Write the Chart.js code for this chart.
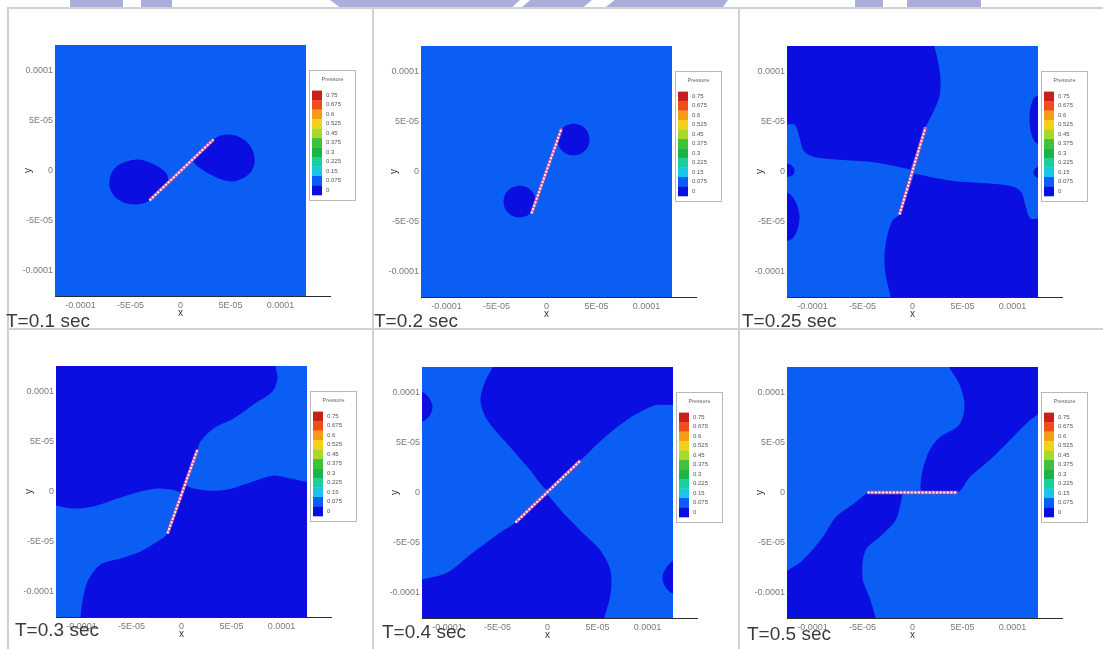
<!DOCTYPE html>
<html>
<head>
<meta charset="utf-8">
<title>Pressure field around a rotating crack</title>
<script src="https://cdn.jsdelivr.net/npm/chart.js@4.4.1/dist/chart.umd.min.js"></script>
<style>
  html, body { margin: 0; padding: 0; background: #fff; }
  #page { position: relative; width: 1103px; height: 649px; overflow: hidden; background: #fff;
          font-family: "Liberation Sans", Arial, sans-serif; }
  .rule { position: absolute; background: #d2d2d2; }
  .mark { position: absolute; top: 0; height: 7px; background: #a9aedb; }
  canvas { position: absolute; }
  .time { position: absolute; font-size: 19px; line-height: 19px; color: #3a3a3a; white-space: nowrap; }
</style>
</head>
<body>
<div id="page">
  <!-- banner shapes along the top edge -->
  <div class="mark" style="left:70px;width:53px"></div>
  <div class="mark" style="left:141px;width:31px"></div>
  <div class="mark" style="left:330px;width:190px;clip-path:polygon(0 0,100% 0,96% 100%,5% 100%)"></div>
  <div class="mark" style="left:522px;width:70px;clip-path:polygon(12% 0,100% 0,88% 100%,0 100%)"></div>
  <div class="mark" style="left:606px;width:122px;clip-path:polygon(7% 0,100% 0,96% 100%,0 100%)"></div>
  <div class="mark" style="left:855px;width:28px"></div>
  <div class="mark" style="left:907px;width:74px"></div>

  <!-- panel frame -->
  <div class="rule" style="left:7px;top:7px;width:1096px;height:2px"></div>
  <div class="rule" style="left:7px;top:328px;width:1096px;height:2px"></div>
  <div class="rule" style="left:7px;top:7px;width:2px;height:642px"></div>
  <div class="rule" style="left:372px;top:7px;width:2px;height:642px"></div>
  <div class="rule" style="left:738px;top:7px;width:2px;height:642px"></div>
</div>

<script>
// ---- contour levels of the colour bar ----
const LEVELS = [0.75, 0.675, 0.6, 0.525, 0.45, 0.375, 0.3, 0.225, 0.15, 0.075, 0];
const LEVEL_LABELS = ['0.75', '0.675', '0.6', '0.525', '0.45', '0.375', '0.3', '0.225', '0.15', '0.075', '0'];
const LEGEND_TITLE = 'Pressure';

// ---- axes ----
const TICK_VALUES = [-1e-4, -5e-5, 0, 5e-5, 1e-4];
const TICK_LABELS = ['-0.0001', '-5E-05', '0', '5E-05', '0.0001'];
const AXIS_X = 'x';
const AXIS_Y = 'y';
const TIME_LABELS = ['T=0.1 sec', 'T=0.2 sec', 'T=0.25 sec', 'T=0.3 sec', 'T=0.4 sec', 'T=0.5 sec'];

// ---- geometry, in micrometres (x, y) ----
const UM = 1e-6;
const DOMAIN = [[-130, -130], [130, -130], [130, 130], [-130, 130]];

// T = 0.1 s
const t01Crack = [[-31, -30], [33, 31]];
const t01LobeLow = [[-31, -30], [-38, -33], [-47, -34], [-57, -32], [-66, -26], [-71, -16], [-70, -5], [-64, 4],
                    [-54, 9], [-42, 11], [-31, 8], [-21, 3], [-14, -3], [-12, -10]];
const t01LobeHigh = [[33, 31], [40, 35], [50, 36], [60, 33], [68, 27], [73, 18], [74, 7], [70, -2], [62, -8],
                     [52, -11], [41, -9], [30, -4], [20, 2], [14, 7], [12, 11]];

// T = 0.2 s
const t02Crack = [[-15, -42], [15, 43]];
const t02LobeLow = [[-27, -14], [-19, -16], [-13, -22], [-11, -30], [-13, -38], [-19, -44], [-27, -46],
                    [-35, -44], [-41, -38], [-43, -30], [-41, -22], [-35, -16]];
const t02LobeHigh = [[27, 48], [35, 46], [41, 40], [43, 32], [41, 24], [35, 18], [27, 16], [19, 18],
                     [13, 24], [11, 32], [13, 40], [19, 46]];

// T = 0.25 s
const t025Crack = [[-13, -43], [13, 44]];
const t025LowUpper = [[-2, 2], [5, 23], [13, 44], [21, 60], [27, 75], [28, 92], [26, 108], [22, 125], [22, 130],
                      [-130, 130], [-130, 48], [-118, 47], [-113, 34], [-109, 21], [-100, 15], [-77, 12],
                      [-45, 10], [-20, 6]];
const t025LowLower = [[2, -2], [-5, -22], [-13, -43], [-20, -49], [-25, -63], [-28, -83], [-27, -103],
                      [-22, -125], [-22, -130], [130, -130], [130, -48], [118, -47], [113, -34], [109, -21],
                      [100, -15], [77, -12], [45, -10], [20, -6]];
const t025WestA = [[-130, 8], [-122, 7], [-118, 2], [-119, -3], [-123, -5], [-130, -5]];
const t025WestB = [[-130, -20], [-122, -23], [-116, -32], [-113, -45], [-115, -58], [-120, -67], [-130, -71]];
const t025EastA = [[130, 5], [124, 4], [121, 0], [122, -4], [125, -6], [130, -6]];
const t025EastB = [[130, 77], [122, 74], [118, 64], [117, 50], [119, 37], [123, 29], [130, 26]];

// T = 0.3 s
const t03Crack = [[-14, -42], [16, 42]];
const t03HighUpper = [[94, 130], [94, 125], [96, 113], [91, 100], [72, 87], [52, 73], [32, 63], [19, 50],
                      [16, 42], [10, 24], [4, 7], [26, 1], [46, 2], [69, 9], [92, 16], [109, 13], [130, 12],
                      [130, 130]];
const t03HighLower = [[-130, -13], [-108, -17], [-88, -15], [-64, -7], [-41, 0], [-21, 3], [-1, -2], [-7, -22],
                      [-14, -42], [-24, -50], [-41, -60], [-61, -67], [-81, -73], [-94, -90], [-99, -110],
                      [-101, -125], [-101, -130], [-130, -130]];

// T = 0.4 s
const t04Crack = [[-32, -30], [33, 32]];
const t04LowUpper = [[-55, 130], [-55, 125], [-62, 112], [-67, 92], [-60, 72], [-37, 45], [-17, 22], [0, 3],
                     [16, 16], [33, 32], [57, 55], [83, 75], [107, 87], [130, 90], [130, 130]];
const t04LowLower = [[0, -2], [-16, -15], [-32, -30], [-50, -42], [-77, -62], [-100, -80], [-125, -87],
                     [-130, -88], [-130, -130], [57, -130], [57, -125], [63, -102], [63, -78], [53, -58],
                     [37, -42], [17, -22]];
const t04West = [[-130, 101], [-124, 100], [-118, 94], [-115, 86], [-117, 78], [-123, 72], [-130, 71]];
const t04East = [[130, -67], [123, -70], [117, -78], [115, -85], [117, -93], [123, -100], [130, -102]];

// T = 0.5 s
const t05Crack = [[-45, 0], [45, 0]];
const t05LowUpper = [[37, 130], [37, 125], [47, 108], [52, 88], [47, 68], [27, 55], [17, 42], [10, 22], [8, 5],
                     [10, 0], [45, 0], [57, 15], [80, 35], [103, 58], [117, 72], [130, 84], [130, 130]];
const t05LowLower = [[-45, 0], [-60, -12], [-77, -25], [-90, -45], [-110, -68], [-125, -78], [-130, -80],
                     [-130, -130], [-37, -130], [-37, -125], [-43, -105], [-50, -85], [-47, -58], [-30, -42],
                     [-17, -28], [-12, -12], [-10, 0]];

// background level and contour patches of each snapshot
const PANELS = [
  { time: TIME_LABELS[0], base: 0.075, crack: t01Crack,
    patches: [{ level: 0, pts: t01LobeLow }, { level: 0, pts: t01LobeHigh }] },
  { time: TIME_LABELS[1], base: 0.075, crack: t02Crack,
    patches: [{ level: 0, pts: t02LobeLow }, { level: 0, pts: t02LobeHigh }] },
  { time: TIME_LABELS[2], base: 0.075, crack: t025Crack,
    patches: [{ level: 0, pts: t025LowUpper }, { level: 0, pts: t025LowLower },
              { level: 0, pts: t025WestA }, { level: 0, pts: t025WestB },
              { level: 0, pts: t025EastA }, { level: 0, pts: t025EastB }] },
  { time: TIME_LABELS[3], base: 0, crack: t03Crack,
    patches: [{ level: 0.075, pts: t03HighUpper }, { level: 0.075, pts: t03HighLower }] },
  { time: TIME_LABELS[4], base: 0.075, crack: t04Crack,
    patches: [{ level: 0, pts: t04LowUpper }, { level: 0, pts: t04LowLower },
              { level: 0, pts: t04West }, { level: 0, pts: t04East }] },
  { time: TIME_LABELS[5], base: 0.075, crack: t05Crack,
    patches: [{ level: 0, pts: t05LowUpper }, { level: 0, pts: t05LowLower }] }
];

// ---- styling and layout ----
const LEVEL_COLORS = ['#c81e1e', '#f04d18', '#f79b1b', '#f0d21a', '#a8d92a', '#3fc23a', '#19b54a',
                      '#1ccf9a', '#18c6ea', '#0b5ef3', '#0a0ee0'];
const PLOT_ORIGINS = [{ left: 55, top: 45 }, { left: 421, top: 46 }, { left: 787, top: 46 },
                      { left: 56, top: 366 }, { left: 422, top: 367 }, { left: 787, top: 367 }];
const LABEL_POS = [{ left: 6, top: 311 }, { left: 374, top: 311 }, { left: 742, top: 311 },
                   { left: 15, top: 620 }, { left: 382, top: 622 }, { left: 747, top: 624 }];
const PLOT = 251, AXIS_W = 50, AXIS_H = 35, PAD_TOP = 10, PAD_RIGHT = 60;
const HALF_RANGE = 125.5 * UM;
const FONT = '"Liberation Sans", Arial, sans-serif';

Chart.defaults.font.family = FONT;

const toXY = arr => arr.map(([x, y]) => ({ x: x * UM, y: y * UM }));
const levelColor = v => LEVEL_COLORS[LEVELS.indexOf(v)];

// axis line running past the plot, axis titles
const axisDecor = {
  id: 'axisDecor',
  afterDraw(chart) {
    const { ctx, chartArea: a, scales } = chart;
    ctx.save();
    ctx.strokeStyle = '#2b2b2b';
    ctx.lineWidth = 1;
    ctx.beginPath();
    ctx.moveTo(a.left, a.bottom + 0.5);
    ctx.lineTo(a.right + 25, a.bottom + 0.5);
    ctx.stroke();
    ctx.fillStyle = '#333';
    ctx.font = '10px ' + FONT;
    ctx.textAlign = 'center';
    ctx.textBaseline = 'middle';
    ctx.fillText(AXIS_X, scales.x.getPixelForValue(0), a.bottom + 17);
    ctx.translate(a.left - 27, scales.y.getPixelForValue(0));
    ctx.rotate(-Math.PI / 2);
    ctx.fillText(AXIS_Y, 0, 0);
    ctx.restore();
  }
};

// colour bar legend beside the plot
const colorBar = {
  id: 'colorBar',
  afterDraw(chart) {
    const { ctx, chartArea: a } = chart;
    const bx = a.right + 3, by = a.top + 25, bw = 47, bh = 131;
    ctx.save();
    ctx.fillStyle = '#fff';
    ctx.fillRect(bx, by, bw, bh);
    ctx.strokeStyle = '#b8b8b8';
    ctx.lineWidth = 1;
    ctx.strokeRect(bx + 0.5, by + 0.5, bw - 1, bh - 1);
    ctx.fillStyle = '#666';
    ctx.font = '5.5px ' + FONT;
    ctx.textAlign = 'center';
    ctx.textBaseline = 'middle';
    ctx.fillText(LEGEND_TITLE, bx + bw / 2, by + 9);
    const sh = 104.4 / LEVELS.length;
    ctx.textAlign = 'left';
    ctx.font = '6px ' + FONT;
    LEVELS.forEach((lv, i) => {
      const y0 = by + 20.6 + i * sh;
      ctx.fillStyle = LEVEL_COLORS[i];
      ctx.fillRect(bx + 3, y0, 10, sh + 0.3);
      ctx.fillStyle = '#555';
      ctx.fillText(LEVEL_LABELS[i], bx + 17, y0 + sh / 2);
    });
    ctx.restore();
  }
};

const page = document.getElementById('page');

function axisOptions(isX) {
  return {
    type: 'linear',
    min: -HALF_RANGE,
    max: HALF_RANGE,
    afterBuildTicks: s => { s.ticks = TICK_VALUES.map(v => ({ value: v })); },
    afterFit: s => { if (isX) s.height = AXIS_H; else s.width = AXIS_W; },
    ticks: {
      callback: (v, i) => TICK_LABELS[i],
      autoSkip: false,
      maxRotation: 0,
      padding: isX ? 4 : 2,
      color: '#7a7a7a',
      font: { size: 9 }
    },
    grid: { display: false, drawTicks: false, tickLength: 0 },
    border: { display: false }
  };
}

PANELS.forEach((p, i) => {
  const o = PLOT_ORIGINS[i];
  const cv = document.createElement('canvas');
  cv.width = AXIS_W + PLOT + PAD_RIGHT;
  cv.height = PAD_TOP + PLOT + AXIS_H;
  cv.style.left = (o.left - AXIS_W) + 'px';
  cv.style.top = (o.top - PAD_TOP) + 'px';
  page.appendChild(cv);

  const datasets = [
    { data: toXY(p.crack), borderColor: '#fdf0f8', borderWidth: 2, borderDash: [2.2, 1.4],
      pointRadius: 0, tension: 0, fill: false, order: 0 },
    { data: toXY(p.crack), borderColor: '#c24d9c', borderWidth: 3.4,
      pointRadius: 0, tension: 0, fill: false, order: 1 },
    ...p.patches.map(pt => ({
      data: toXY(pt.pts), backgroundColor: levelColor(pt.level), borderColor: 'rgba(0,0,0,0)',
      borderWidth: 0, pointRadius: 0, tension: 0.3, fill: 'shape', order: 2
    })),
    { data: toXY(DOMAIN), backgroundColor: levelColor(p.base), borderColor: 'rgba(0,0,0,0)',
      borderWidth: 0, pointRadius: 0, tension: 0, fill: 'shape', order: 3 }
  ];

  new Chart(cv, {
    type: 'line',
    data: { datasets },
    options: {
      responsive: false,
      animation: false,
      events: [],
      layout: { padding: { left: 0, right: PAD_RIGHT, top: PAD_TOP, bottom: 0 } },
      plugins: { legend: { display: false }, tooltip: { enabled: false } },
      scales: { x: axisOptions(true), y: axisOptions(false) }
    },
    plugins: [axisDecor, colorBar]
  });

  const lab = document.createElement('div');
  lab.className = 'time';
  lab.style.left = LABEL_POS[i].left + 'px';
  lab.style.top = LABEL_POS[i].top + 'px';
  lab.textContent = p.time;
  page.appendChild(lab);
});
</script>
</body>
</html>
